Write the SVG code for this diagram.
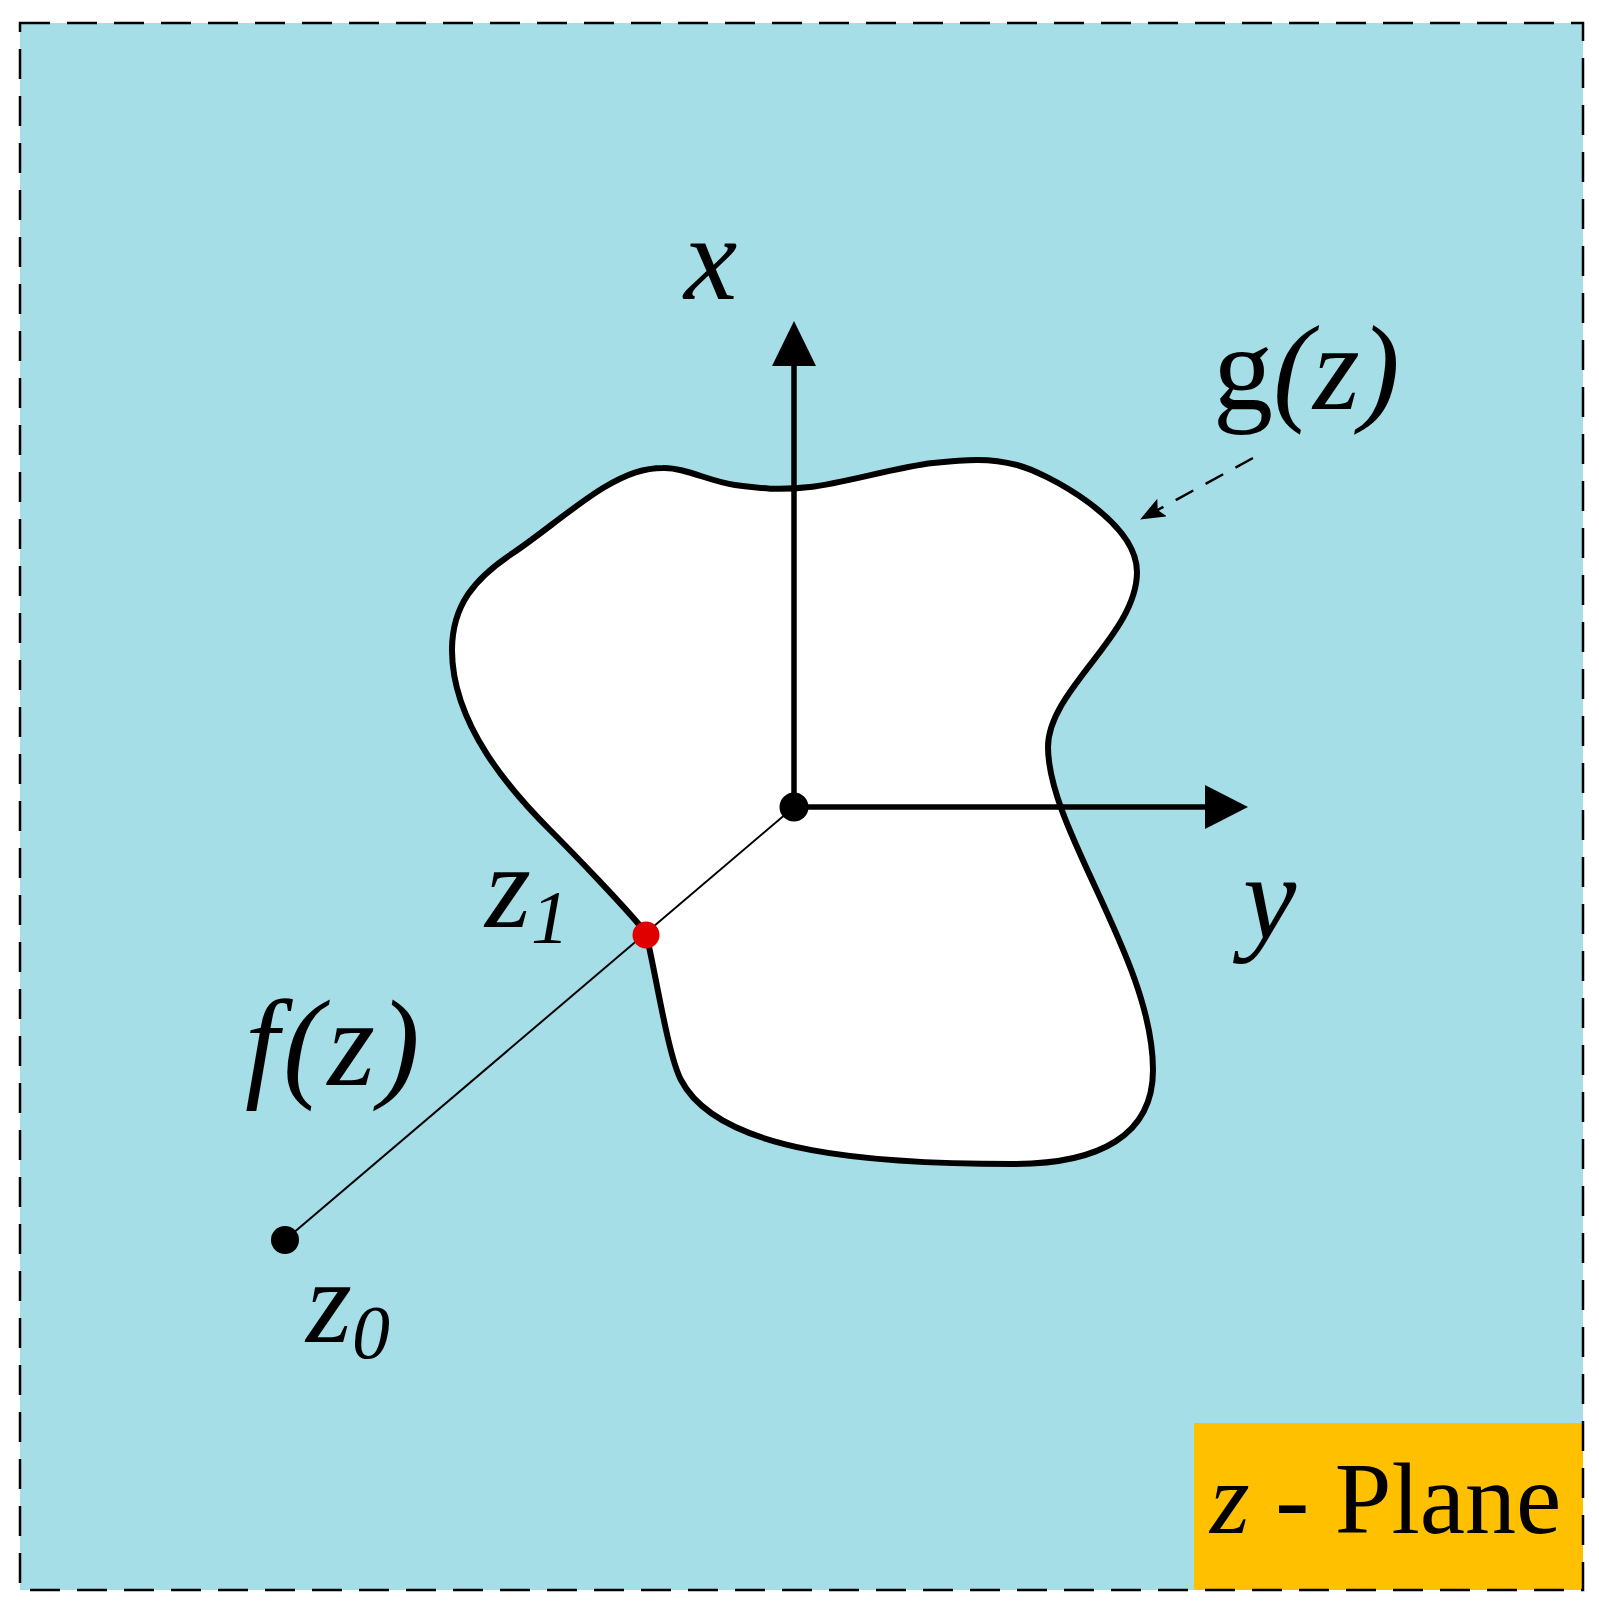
<svg xmlns="http://www.w3.org/2000/svg" width="1599" height="1615" viewBox="0 0 1599 1615">
  <style>
    .lbl { font-family: "Liberation Serif", "Times New Roman", serif; fill: #000; }
    .it { font-style: italic; }
    .axis { stroke: #000; stroke-width: 5.5; fill: none; }
  </style>
  <defs>
    <marker id="dashHead" viewBox="0 0 25 20" refX="24" refY="10" markerWidth="25" markerHeight="20" markerUnits="userSpaceOnUse" orient="auto">
      <path d="M0,0 L25,10 L0,20 L5,10 z" fill="#000"/>
    </marker>
  </defs>
  <rect x="0" y="0" width="1599" height="1615" fill="#ffffff"/>
  <rect id="plane-bg" x="20" y="23" width="1563" height="1567" fill="#A6DEE8"/>

  <g id="region-g">
    <path d="M663,468 C685,467.5 710.5,481.8 735,485 C759.5,488.2 777,490.7 810,487 C843,483.3 898.5,466.7 933,463 C967.5,459.3 989.2,457.8 1017,465 C1044.8,472.2 1137,520 1137,572 C1137,635 1048,690 1048,747 C1048,830 1153,960 1153,1070 C1153,1135 1100,1164 1013,1164 C880,1164 720,1155 681,1080 C668,1055 656,975 646,933 C628,910 572,852 550,830 C512,792 452,725 452,650 C452,605 475,578 513,553 C540,535 575,505 603,488 C628,473 645,468 663,468 Z" fill="#ffffff" stroke="#000" stroke-width="6"/>
  </g>

  <g id="connectors">
    <line x1="285" y1="1240" x2="794" y2="807" stroke="#000" stroke-width="2"/>
    <line class="axis" x1="794" y1="807" x2="794" y2="360"/>
    <polygon points="794,321 772,366 816,366" fill="#000"/>
    <line class="axis" x1="794" y1="807" x2="1210" y2="807"/>
    <polygon points="1248,807 1205,785 1205,829" fill="#000"/>
    <line x1="1253" y1="458" x2="1141" y2="519" stroke="#000" stroke-width="2.5" stroke-dasharray="20,14" marker-end="url(#dashHead)"/>
  </g>

  <g id="origin"><circle cx="794" cy="807" r="14.5" fill="#000"/></g>
  <g id="z1-point"><circle cx="646" cy="935" r="13.5" fill="#E00000"/></g>
  <g id="z0-point"><circle cx="285" cy="1240" r="14" fill="#000"/></g>

  <g id="label-x"><text class="lbl it" x="684" y="299" font-size="120">x</text></g>
  <g id="label-y"><text class="lbl it" x="1243" y="938" font-size="120">y</text></g>
  <g id="label-g"><text class="lbl" x="1213" y="409" font-size="120">g<tspan class="it">(z)</tspan></text></g>
  <g id="label-f"><text class="lbl it" x="245" y="1085" font-size="122" letter-spacing="4">f(z)</text></g>
  <g id="label-z1"><text class="lbl it" x="485" y="927" font-size="118">z<tspan font-size="76" dy="16">1</tspan></text></g>
  <g id="label-z0"><text class="lbl it" x="306" y="1342" font-size="118">z<tspan font-size="76" dy="16">0</tspan></text></g>

  <g id="plane-tag">
    <rect x="1194" y="1423" width="389" height="167" fill="#FFC000"/>
    <text class="lbl" x="1210" y="1533" font-size="102"><tspan class="it">z</tspan> - Plane</text>
  </g>

  <rect id="border" x="20" y="23" width="1563" height="1567" fill="none" stroke="#000" stroke-width="2.5" stroke-dasharray="30,17"/>
</svg>
